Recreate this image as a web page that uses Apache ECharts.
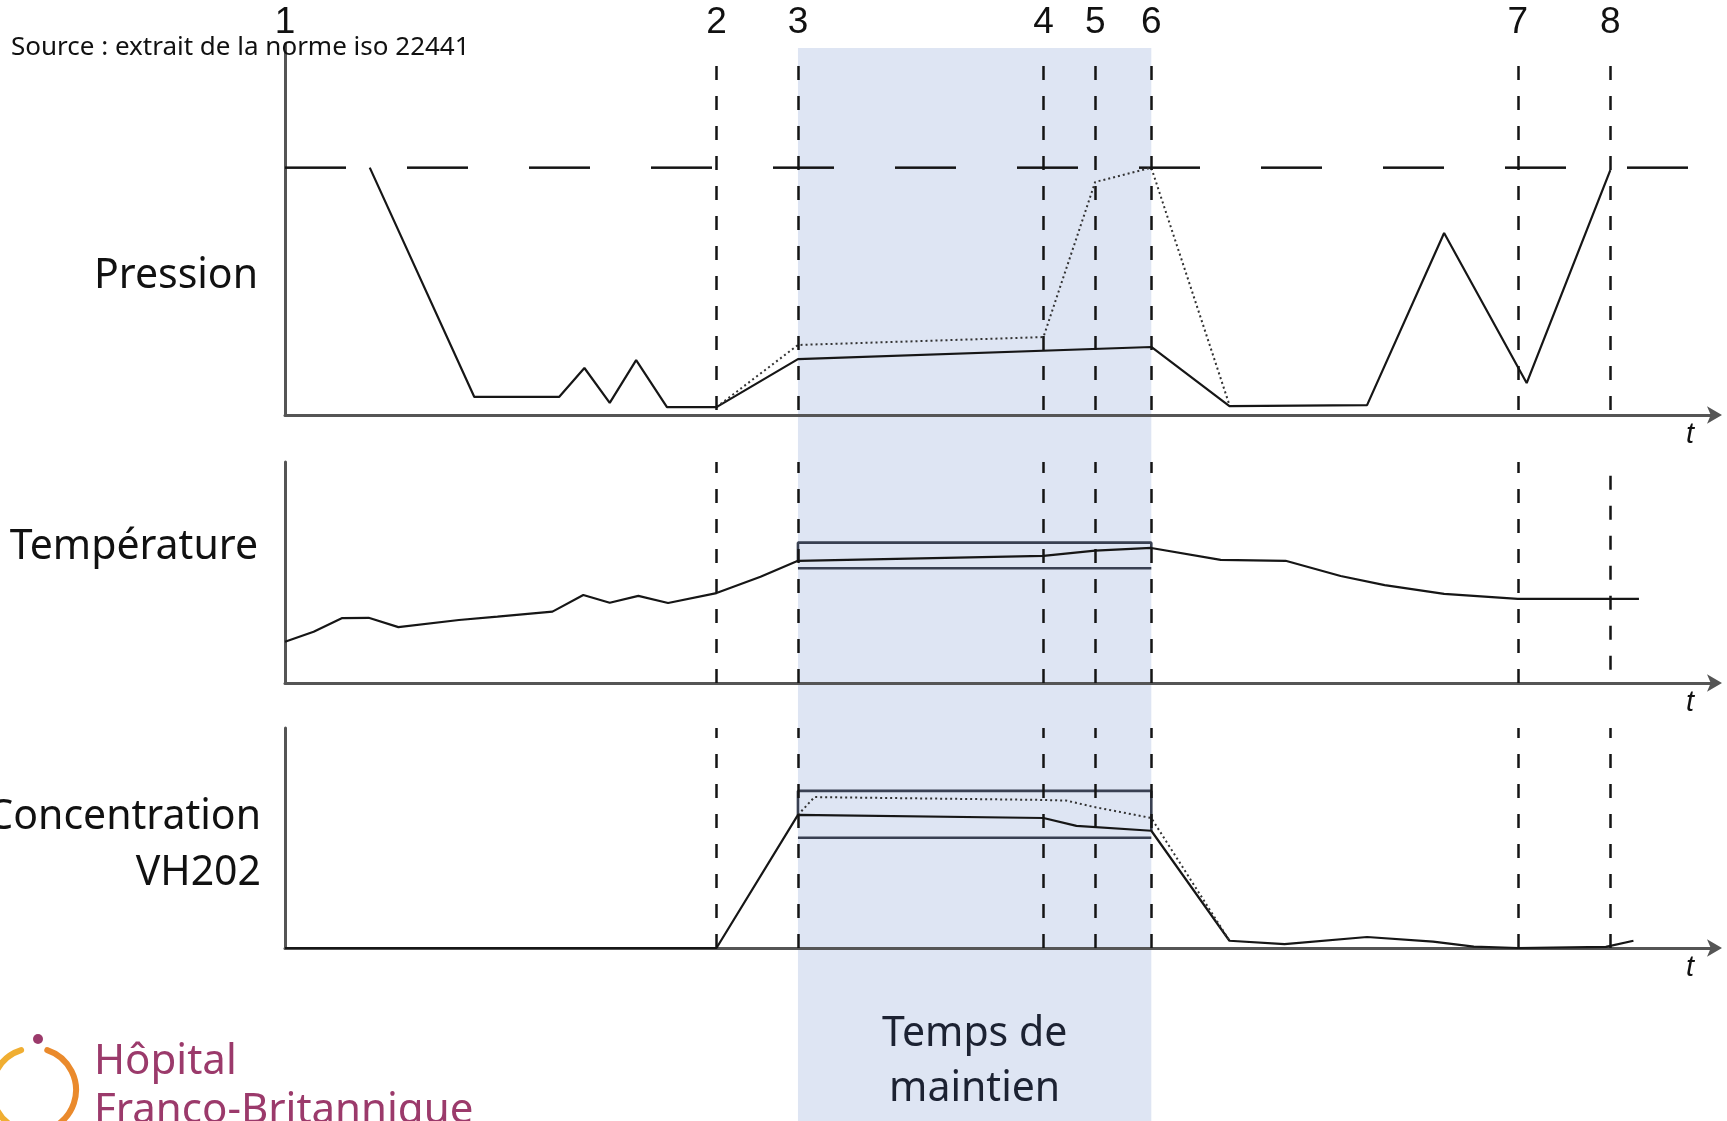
<!DOCTYPE html>
<html>
<head>
<meta charset="utf-8">
<title>Cycle VH2O2 - norme ISO 22441</title>
<script src="https://cdn.jsdelivr.net/npm/echarts@6/dist/echarts.min.js"></script>
<style>
  html, body { margin: 0; padding: 0; background: #fff; }
  #chart { width: 1727px; height: 1121px; }
</style>
</head>
<body>
<div id="chart"></div>
<script>
// repères temporels 1..8 (unités arbitraires sur t)
const markerNames = ['1', '2', '3', '4', '5', '6', '7', '8']
const markerT = [0, 39.2, 46.6, 68.9, 73.6, 78.7, 112.0, 120.4]

// pression : trait plein + variante en pointillés
const pressionT = [7.7, 17.2, 24.9, 27.2, 29.5, 31.9, 34.7, 39.2, 46.6, 78.7, 85.8, 98.3, 105.3, 112.8, 120.4]
const pressionV = [100, 7.3, 7.3, 19.0, 4.9, 22.2, 3.2, 3.2, 22.6, 27.5, 3.6, 4.0, 73.6, 12.9, 99]
const pressionPointT = [39.2, 46.6, 68.9, 73.6, 78.7, 85.8]
const pressionPointV = [3.2, 28.3, 31.5, 94.2, 100, 4.0]
// niveau de référence (pression atmosphérique, tirets longs)
const pressionRefT = [0, 128]
const pressionRefV = [100, 100]

// température
const tempT = [0, 2.6, 5.2, 7.6, 10.3, 15.8, 19.3, 24.3, 27.1, 29.5, 32.1, 34.8, 39.2, 43.2, 46.6, 68.9, 73.6, 78.7, 85.0, 90.9, 95.9, 99.9, 105.3, 112.0, 123.0]
const tempV = [18.7, 23.2, 29.4, 29.5, 25.3, 28.5, 30.0, 32.3, 39.8, 36.3, 39.4, 36.2, 40.7, 48.1, 55.3, 57.5, 59.9, 61.1, 55.7, 55.3, 48.4, 44.3, 40.3, 38.1, 38.1]
// limites haute / basse pendant le maintien
const tempHautT = [46.6, 46.6, 78.7, 78.7]
const tempHautV = [55.3, 63.5, 63.5, 61.1]
const tempBasT = [46.6, 78.7]
const tempBasV = [51.9, 51.9]

// concentration VH2O2
const concT = [0, 39.2, 46.6, 68.9, 71.9, 78.7, 85.8, 90.8, 98.3, 104.3, 108.0, 112.0, 120.0, 122.5]
const concV = [0, 0, 60.5, 59.1, 55.5, 53.3, 3.3, 1.8, 5.0, 2.9, 0.6, 0, 0.5, 3.3]
const concPointT = [46.6, 48.1, 68.9, 71.0, 73.5, 78.7, 84.2, 85.8]
const concPointV = [60.5, 68.6, 67.3, 67.0, 64.1, 59.1, 15.9, 3.3]
const concHautT = [46.6, 46.6, 78.7, 78.7]
const concHautV = [60.5, 71.4, 71.4, 53.3]
const concBasT = [46.6, 78.7]
const concBasV = [50.1, 50.1]

// étendue verticale des repères pointillés, par panneau [bas, haut]
const repPression = [2, 146]
const repTemp = [0, 100]
const repTemp8 = [6, 95]
const repConc = [0, 100]

const zip = (xs, ys) => xs.map((x, i) => [x, ys[i]])

const AXIS = '#555'
const INK = '#161616'
const FONT = 'Noto Sans'

let myChart = echarts.init(document.getElementById('chart'), null, { renderer: 'canvas' })

// axes communs (sans graduations, flèche sur t)
function makeX(gridIndex, show) {
  return {
    type: 'value',
    gridIndex: gridIndex,
    min: 0,
    max: 130,
    show: show,
    z: 3,
    name: show ? 't' : '',
    nameLocation: 'end',
    nameGap: -30,
    nameTextStyle: {
      fontFamily: 'Liberation Sans',
      fontStyle: 'italic',
      fontSize: 29,
      color: '#111',
      verticalAlign: 'top',
      padding: [5, 0, 0, 0]
    },
    axisLine: {
      show: true,
      symbol: ['none', 'arrow'],
      symbolSize: [13, 15],
      symbolOffset: [0, 6],
      lineStyle: { color: AXIS, width: 3 }
    },
    axisTick: { show: false },
    axisLabel: { show: false },
    splitLine: { show: false }
  }
}
function makeY(gridIndex, max, show) {
  return {
    type: 'value',
    gridIndex: gridIndex,
    min: 0,
    max: max,
    show: show,
    z: 3,
    axisLine: { show: true, lineStyle: { color: AXIS, width: 3 } },
    axisTick: { show: false },
    axisLabel: { show: false },
    splitLine: { show: false }
  }
}

// lignes verticales de repère
function reperes(ext, ext8, withLabel) {
  return markerT.map((t, i) => {
    let e = (i === 7 && ext8) ? ext8 : ext
    let first = {
      coord: [t, e[0]],
      name: markerNames[i],
      // le repère 1 est confondu avec l'axe : seulement le numéro
      lineStyle: i === 0 ? { color: 'rgba(0,0,0,0)' } : {},
      label: withLabel ? { show: true } : { show: false }
    }
    return [first, { coord: [t, e[1]] }]
  }).filter((d, i) => withLabel || i > 0)
}
function markLineOpt(ext, ext8, withLabel) {
  return {
    silent: true,
    symbol: 'none',
    animation: false,
    lineStyle: { color: '#141414', width: 2.5, type: [14, 16] },
    label: {
      position: 'end',
      distance: 13,
      formatter: '{b}',
      fontFamily: 'Liberation Sans',
      fontSize: 37,
      color: '#111'
    },
    data: reperes(ext, ext8, withLabel)
  }
}

function courbe(name, xi, data, opts) {
  return Object.assign({
    name: name,
    type: 'line',
    xAxisIndex: xi,
    yAxisIndex: xi,
    data: data,
    symbol: 'none',
    clip: false,
    z: 4,
    lineStyle: { color: INK, width: 2.2 }
  }, opts || {})
}
const pointille = { lineStyle: { color: '#333', width: 2, type: [2, 3] } }
const limite = { lineStyle: { color: '#394052', width: 2.6 } }

let option = {
  animation: false,
  backgroundColor: '#fff',
  grid: [
    { left: 285, right: 11, top: 44, height: 371 },
    { left: 285, right: 11, top: 462, height: 221 },
    { left: 285, right: 11, top: 728, height: 220 },
    // bande "temps de maintien" sur toute la hauteur
    { left: 285, right: 11, top: 48, height: 1073 }
  ],
  xAxis: [makeX(0, true), makeX(1, true), makeX(2, true), makeX(3, false)],
  yAxis: [makeY(0, 150, true), makeY(1, 100, true), makeY(2, 100, true), makeY(3, 1, false)],
  series: [
    {
      name: 'Temps de maintien',
      type: 'line',
      xAxisIndex: 3,
      yAxisIndex: 3,
      data: [],
      z: 1,
      silent: true,
      markArea: {
        silent: true,
        itemStyle: { color: '#dee5f3' },
        label: {
          show: true,
          position: 'insideBottom',
          distance: 4,
          formatter: 'Temps de\nmaintien',
          fontFamily: FONT,
          fontSize: 41,
          lineHeight: 55,
          color: '#1c2232'
        },
        data: [[{ xAxis: markerT[2] }, { xAxis: markerT[5] }]]
      }
    },
    // pression
    courbe('Pression référence', 0, zip(pressionRefT, pressionRefV), {
      lineStyle: { color: '#141414', width: 2.5, type: [61, 61] },
      markLine: markLineOpt(repPression, null, true)
    }),
    courbe('Pression', 0, zip(pressionT, pressionV)),
    courbe('Pression (variante)', 0, zip(pressionPointT, pressionPointV), pointille),
    // température
    courbe('Limite haute T', 1, zip(tempHautT, tempHautV), Object.assign({
      markLine: markLineOpt(repTemp, repTemp8, false)
    }, limite)),
    courbe('Limite basse T', 1, zip(tempBasT, tempBasV), limite),
    courbe('Température', 1, zip(tempT, tempV)),
    // concentration
    courbe('Limite haute C', 2, zip(concHautT, concHautV), Object.assign({
      markLine: markLineOpt(repConc, null, false)
    }, limite)),
    courbe('Limite basse C', 2, zip(concBasT, concBasV), limite),
    courbe('Concentration', 2, zip(concT, concV)),
    courbe('Concentration (variante)', 2, zip(concPointT, concPointV), pointille)
  ],
  graphic: [
    {
      type: 'text', x: 11, y: 48, z: 10,
      style: { text: 'Source : extrait de la norme iso 22441', fontFamily: FONT, fontSize: 26, fill: '#111', verticalAlign: 'middle' }
    },
    {
      type: 'text', x: 258, y: 276,
      style: { text: 'Pression', fontFamily: FONT, fontSize: 41, fill: '#111', align: 'right', verticalAlign: 'middle' }
    },
    {
      type: 'text', x: 258, y: 547,
      style: { text: 'Température', fontFamily: FONT, fontSize: 41, fill: '#111', align: 'right', verticalAlign: 'middle' }
    },
    {
      type: 'text', x: 261, y: 817,
      style: { text: 'Concentration', fontFamily: FONT, fontSize: 41, fill: '#111', align: 'right', verticalAlign: 'middle' }
    },
    {
      type: 'text', x: 261, y: 873,
      style: { text: 'VH202', fontFamily: FONT, fontSize: 41, fill: '#111', align: 'right', verticalAlign: 'middle' }
    },
    // logo
    {
      type: 'arc', shape: { cx: 34, cy: 1090, r: 42, startAngle: 1.95, endAngle: 4.4, clockwise: true },
      style: { stroke: '#f0ae32', lineWidth: 6, fill: null, lineCap: 'round' }
    },
    {
      type: 'arc', shape: { cx: 34, cy: 1090, r: 42, startAngle: -1.25, endAngle: 1.4, clockwise: true },
      style: { stroke: '#ea8a2c', lineWidth: 6, fill: null, lineCap: 'round' }
    },
    {
      type: 'circle', shape: { cx: 38, cy: 1039, r: 5 },
      style: { fill: '#9b3a6b' }
    },
    {
      type: 'text', x: 94, y: 1062,
      style: { text: 'Hôpital', fontFamily: FONT, fontSize: 42, fill: '#9b3a6b', verticalAlign: 'middle' }
    },
    {
      type: 'text', x: 94, y: 1111,
      style: { text: 'Franco-Britannique', fontFamily: FONT, fontSize: 42, fill: '#9b3a6b', verticalAlign: 'middle' }
    }
  ]
}

myChart.setOption(option)
</script>
</body>
</html>
